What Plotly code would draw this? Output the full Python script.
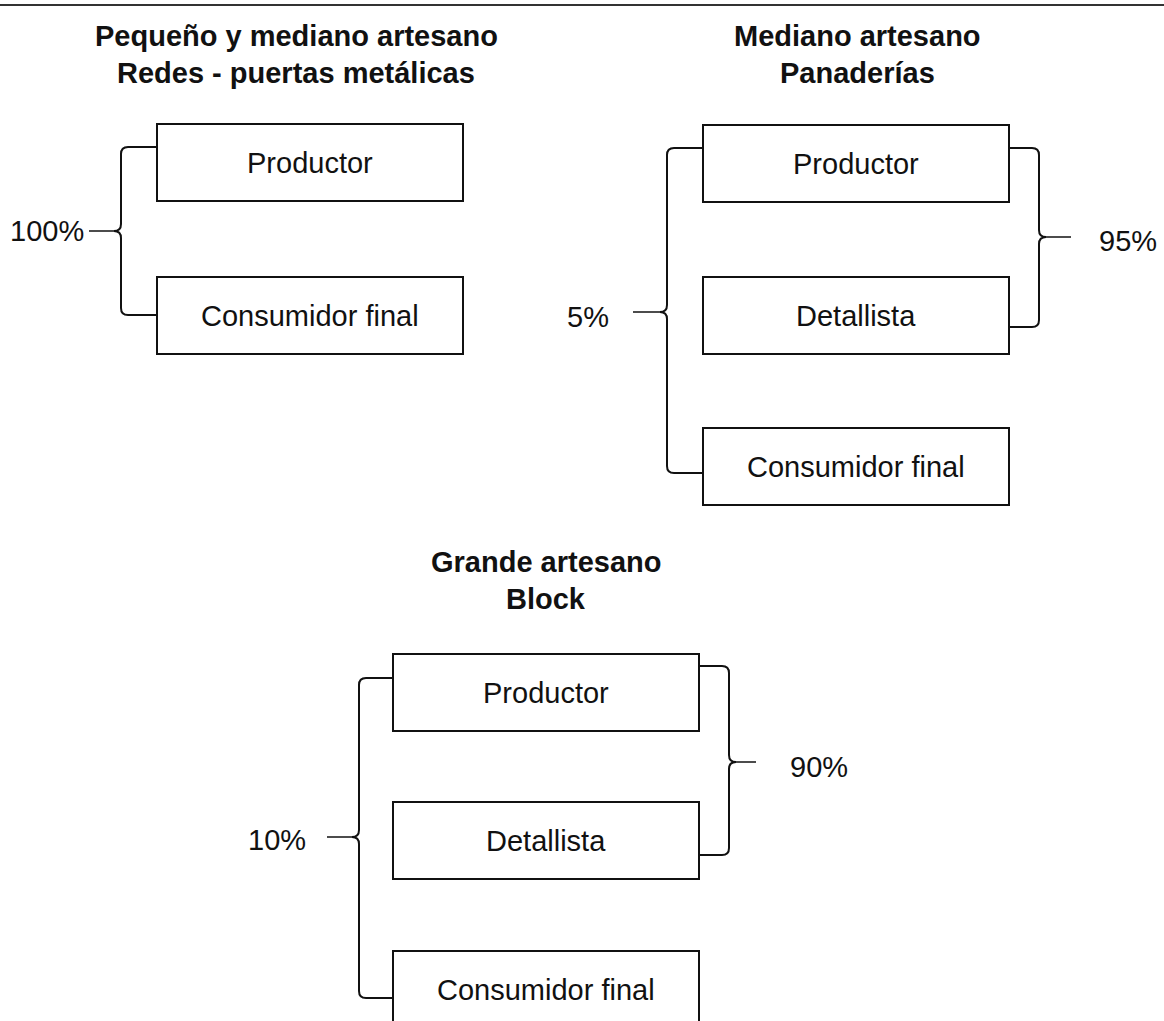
"""
Canales de distribución por tipo de artesano (diagrama de cajas y llaves).

Plotly no tiene un tipo de diagrama de flujo, así que dibujo todo con shapes
y annotations sobre unos ejes invisibles que van 1:1 con los píxeles.
"""

import plotly.graph_objects as go

# --- datos -------------------------------------------------------------------
titulos = [
    ["Pequeño y mediano artesano", "Redes - puertas metálicas"],
    ["Mediano artesano", "Panaderías"],
    ["Grande artesano", "Block"],
]
eslabones = [
    ["Productor", "Consumidor final"],
    ["Productor", "Detallista", "Consumidor final"],
    ["Productor", "Detallista", "Consumidor final"],
]
# % que va directo al consumidor (llave izquierda) y vía detallista (llave derecha)
pct_directo = [100, 5, 10]
pct_detallista = [None, 95, 90]

# --- geometría (px, eje y invertido) ----------------------------------------
W, H = 1164, 1021
BOX_W, BOX_H = 306, 77
FONT = "Liberation Sans, Arial, sans-serif"
INK = "#111111"
SIZE = 29

paneles = [
    dict(x0=157, tops=[124, 277], tx=296, ty=36,
         izq=dict(x=121, y0=147, y1=315, yc=231, fin=89, lx=47, ly=231, anchor="center"),
         der=None),
    dict(x0=703, tops=[125, 277, 428], tx=857, ty=36,
         izq=dict(x=667, y0=148, y1=473, yc=312, fin=633, lx=588, ly=317, anchor="center"),
         der=dict(x=1039, y0=148, y1=327, yc=237, fin=1071, lx=1159, ly=241, anchor="right")),
    dict(x0=393, tops=[654, 802, 951], tx=546, ty=562,
         izq=dict(x=359, y0=678, y1=998, yc=837, fin=327, lx=277, ly=840, anchor="center"),
         der=dict(x=729, y0=666, y1=855, yc=762, fin=756, lx=819, ly=767, anchor="center")),
]


def llave(x, y0, y1, yc, x_caja, b, punta=7, r=7):
    """Path SVG de una llave; b=+1 si la caja está a la derecha, -1 si a la izquierda."""
    return (
        f"M {x_caja},{y0} L {x + b * r},{y0} Q {x},{y0} {x},{y0 + r} "
        f"L {x},{yc - r} Q {x},{yc} {x - b * punta},{yc} Q {x},{yc} {x},{yc + r} "
        f"L {x},{y1 - r} Q {x},{y1} {x + b * r},{y1} L {x_caja},{y1}"
    )


fig = go.Figure()
shapes = []
annotations = []

# línea superior del escaneo
shapes.append(dict(type="line", x0=0, x1=W, y0=5, y1=5,
                   line=dict(color="#333333", width=2)))

for i, p in enumerate(paneles):
    # títulos
    for k, t in enumerate(titulos[i]):
        annotations.append(dict(x=p["tx"], y=p["ty"] + 37 * k, text=f"<b>{t}</b>",
                                showarrow=False, font=dict(size=SIZE, color=INK, family=FONT)))
    # cajas
    for top, nombre in zip(p["tops"], eslabones[i]):
        shapes.append(dict(type="rect", x0=p["x0"], x1=p["x0"] + BOX_W, y0=top, y1=top + BOX_H,
                           line=dict(color=INK, width=2), fillcolor="rgba(0,0,0,0)"))
        annotations.append(dict(x=p["x0"] + BOX_W / 2, y=top + BOX_H / 2, text=nombre,
                                showarrow=False, font=dict(size=SIZE, color=INK, family=FONT)))
    # llaves con porcentaje
    for lado, pct, b, borde in (("izq", pct_directo[i], 1, p["x0"]),
                                ("der", pct_detallista[i], -1, p["x0"] + BOX_W)):
        L = p[lado]
        if L is None or pct is None:
            continue
        shapes.append(dict(type="path", path=llave(L["x"], L["y0"], L["y1"], L["yc"], borde, b),
                           line=dict(color=INK, width=2)))
        shapes.append(dict(type="line", x0=L["x"] - b * 7, x1=L["fin"], y0=L["yc"], y1=L["yc"],
                           line=dict(color=INK, width=1.5)))
        annotations.append(dict(x=L["lx"], y=L["ly"], text=f"{pct}%", showarrow=False,
                                xanchor=L["anchor"],
                                font=dict(size=SIZE, color=INK, family=FONT)))

fig.update_layout(
    width=W,
    height=H,
    margin=dict(l=0, r=0, t=0, b=0),
    paper_bgcolor="white",
    plot_bgcolor="white",
    showlegend=False,
    xaxis=dict(range=[0, W], visible=False, fixedrange=True),
    yaxis=dict(range=[H, 0], visible=False, fixedrange=True),
    shapes=shapes,
    annotations=annotations,
)

# sin el margen por defecto del <body> la figura cae justo en la ventana
fig.write_html(
    "out.html",
    config={"displayModeBar": False},
    post_script="document.body.style.margin='0';document.body.style.overflow='hidden';",
)
